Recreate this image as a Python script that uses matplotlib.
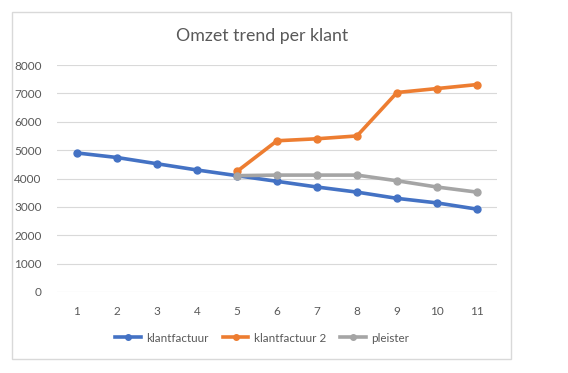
import matplotlib.pyplot as plt
from matplotlib.patches import Rectangle

x = [1, 2, 3, 4, 5, 6, 7, 8, 9, 10, 11]
klantfactuur = [4900, 4740, 4520, 4300, 4100, 3900, 3700, 3520, 3300, 3140, 2920]
x2 = [5, 6, 7, 8, 9, 10, 11]
klantfactuur2 = [4250, 5330, 5400, 5500, 7030, 7170, 7310]
pleister = [4100, 4120, 4120, 4120, 3920, 3700, 3520]

plt.rcParams['font.family'] = ['Lato', 'DejaVu Sans']

fig = plt.figure(figsize=(5.68, 3.73), dpi=100)
ax = fig.add_axes([57/568, 1-292/373, 440/568, 227/373])

ax.plot(x, klantfactuur, color='#4472C4', lw=2.6, marker='o', ms=5, label='klantfactuur', zorder=3)
ax.plot(x2, klantfactuur2, color='#ED7D31', lw=2.6, marker='o', ms=5, label='klantfactuur 2', zorder=4)
ax.plot(x2, pleister, color='#A5A5A5', lw=2.6, marker='o', ms=5, label='pleister', zorder=5)

ax.set_xlim(0.5, 11.5)
ax.set_ylim(0, 8000)
ax.set_xticks(x)
ax.set_yticks(range(0, 8001, 1000))
ax.grid(axis='y', color='#D9D9D9', lw=0.8)
ax.set_axisbelow(True)
for s in ax.spines.values():
    s.set_visible(False)
ax.tick_params(length=0, colors='#595959', labelsize=8.5)
ax.tick_params(axis='x', pad=10)
ax.tick_params(axis='y', pad=11)

fig.text(262/568, 1-36/373, 'Omzet trend per klant', ha='center', va='center',
         fontsize=12.8, color='#595959')

fig.legend(loc='center', bbox_to_anchor=(262/568, 1-338/373), ncol=3, frameon=False,
           fontsize=8.4, handlelength=2.2, columnspacing=1.2, handletextpad=0.45,
           markerscale=0.8, labelcolor='#595959')

fig.patches.append(Rectangle((12/568, 1-359/373), 499/568, 347/373, transform=fig.transFigure,
                             fill=False, edgecolor='#D9D9D9', lw=1))

fig.savefig('out.png', dpi=100)
